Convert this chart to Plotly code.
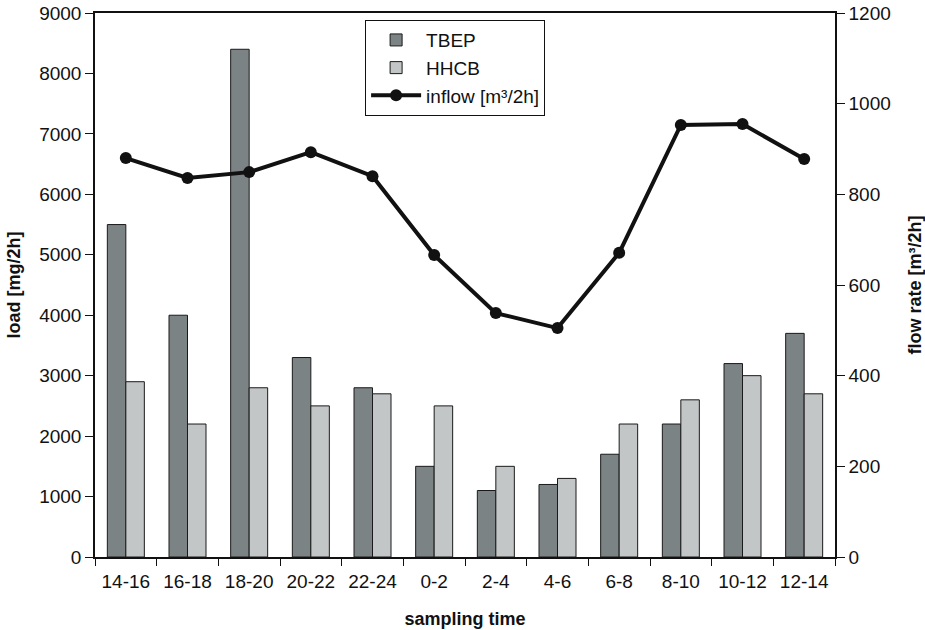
import plotly.graph_objects as go

categories = ["14-16", "16-18", "18-20", "20-22", "22-24", "0-2", "2-4", "4-6", "6-8", "8-10", "10-12", "12-14"]
tbep = [5500, 4000, 8400, 3300, 2800, 1500, 1100, 1200, 1700, 2200, 3200, 3700]
hhcb = [2900, 2200, 2800, 2500, 2700, 2500, 1500, 1300, 2200, 2600, 3000, 2700]
inflow = [880, 836, 849, 893, 840, 666, 538, 505, 671, 953, 955, 878]

load_ticks = list(range(0, 9001, 1000))
flow_ticks = list(range(0, 1201, 200))

font_family = "Liberation Sans, Arial, sans-serif"

fig = go.Figure()
fig.add_trace(go.Bar(x=categories, y=tbep, name="TBEP",
                     marker=dict(color="#7c8385", line=dict(color="#1a1a1a", width=1))))
fig.add_trace(go.Bar(x=categories, y=hhcb, name="HHCB",
                     marker=dict(color="#c3c6c7", line=dict(color="#1a1a1a", width=1))))
fig.add_trace(go.Scatter(x=categories, y=inflow, name="inflow [m³/2h]", yaxis="y2",
                         mode="lines+markers",
                         line=dict(color="#111111", width=4),
                         marker=dict(color="#111111", size=12)))

fig.update_layout(
    width=925, height=630,
    margin=dict(l=95, r=90, t=13, b=73, autoexpand=False),
    paper_bgcolor="white", plot_bgcolor="white",
    font=dict(family=font_family, size=19, color="#111111"),
    barmode="group", bargap=0.4, bargroupgap=0,
    showlegend=True,
    legend=dict(x=0.365, y=0.987, xanchor="left", yanchor="top",
                bordercolor="#111111", borderwidth=1, bgcolor="white",
                font=dict(size=19), tracegroupgap=0, itemwidth=50),
    xaxis=dict(type="category", categoryorder="array", categoryarray=categories,
               range=[-0.5, len(categories) - 0.5],
               title=dict(text="<b>sampling time</b>", font=dict(size=18), standoff=22),
               showline=True, linecolor="#111111", linewidth=1.5, mirror=True,
               ticks="outside", ticklen=7, tickcolor="#111111", tickson="boundaries",
               ticklabelstandoff=6,
               showgrid=False, zeroline=False, automargin=False),
    yaxis=dict(title=dict(text="<b>load [mg/2h]</b>", font=dict(size=18), standoff=14),
               range=[0, 9000], tickvals=load_ticks,
               showline=True, linecolor="#111111", linewidth=1.5,
               ticks="outside", ticklen=8, tickcolor="#111111",
               showgrid=False, zeroline=False, automargin=False),
    yaxis2=dict(title=dict(text="<b>flow rate [m³/2h]</b>", font=dict(size=18), standoff=20),
                range=[0, 1200], tickvals=flow_ticks,
                overlaying="y", side="right",
                showline=True, linecolor="#111111", linewidth=1.5,
                ticks="outside", ticklen=8, tickcolor="#111111",
                showgrid=False, zeroline=False, automargin=False),
)

fig.write_html("out.html")
